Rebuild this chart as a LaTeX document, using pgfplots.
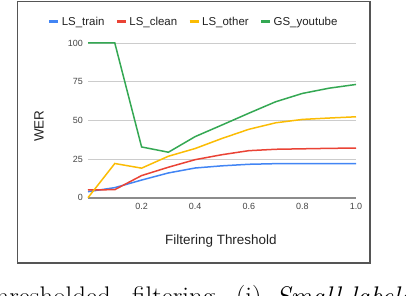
\documentclass[border=0pt]{standalone}
\usepackage{fontspec}
\newfontfamily\arial{Liberation Sans}
\usepackage{pgfplots}
\pgfplotsset{compat=1.18}
\definecolor{gblue}{HTML}{4285F4}
\definecolor{gred}{HTML}{EA4335}
\definecolor{gyellow}{HTML}{FBBC04}
\definecolor{ggreen}{HTML}{34A853}
\definecolor{framecol}{HTML}{555555}
\definecolor{axgray}{HTML}{8C8C8C}
\definecolor{gridgray}{HTML}{CCCCCC}
\definecolor{ticktext}{HTML}{444444}
\definecolor{labeltext}{HTML}{222222}
\begin{document}
\begin{tikzpicture}
\useasboundingbox (0,0) rectangle (406bp,296bp);
\draw[line width=1.3bp, color=framecol] (17.3bp,33bp) rectangle (370bp,294.7bp);
\begin{axis}[
  at={(88bp,98.3bp)}, anchor=south west,
  width=268bp, height=154.7bp, scale only axis,
  xmin=0, xmax=1, ymin=0, ymax=100,
  axis x line=bottom, axis y line=left,
  axis line style={-},
  x axis line style={draw=axgray, line width=2bp},
  y axis line style={draw=none},
  major tick length=0pt,
  xtick={0.2,0.4,0.6,0.8,1.0},
  ytick={0,25,50,75,100},
  ymajorgrids, grid style={draw=gridgray, line width=0.9bp},
  /pgf/number format/assume math mode=true,
  xticklabel style={font=\arial\fontsize{9}{10}\selectfont, color=ticktext, inner sep=0pt, yshift=-5.5bp,
    /pgf/number format/fixed, /pgf/number format/fixed zerofill, /pgf/number format/precision=1},
  yticklabel style={font=\arial\fontsize{9}{10}\selectfont, color=ticktext, inner sep=0pt, xshift=-5bp},
  xlabel={Filtering Threshold}, ylabel={WER},
  label style={font=\arial\fontsize{13.5}{15}\selectfont, color=labeltext},
  xlabel style={at={(axis description cs:0.496,-0.283)}, anchor=center},
  ylabel style={at={(axis description cs:-0.183,0.463)}, anchor=center},
  legend columns=4,
  legend style={at={(axis description cs:0.394,1.136)}, anchor=center, draw=none, fill=none,
    font=\arial\fontsize{11.5}{13}\selectfont, text=labeltext, inner sep=0pt,
    /tikz/every even column/.append style={column sep=9bp}},
  legend image code/.code={\draw[line width=3bp] (0bp,0bp) -- (9bp,0bp);},
  every axis plot/.append style={line width=1.5bp},
  clip=false,
]
\addplot[color=gblue] coordinates {(0,3.9)(0.1,6.5)(0.2,11.4)(0.3,16)(0.4,19.2)(0.5,20.6)(0.6,21.6)(0.7,22)(0.8,22.1)(0.9,22.1)(1.0,22.1)};
\addlegendentry{LS\_train}
\addplot[color=gred] coordinates {(0,5)(0.1,5.2)(0.2,14.3)(0.3,19.7)(0.4,24.6)(0.5,27.8)(0.6,30.4)(0.7,31.3)(0.8,31.6)(0.9,31.9)(1.0,32.1)};
\addlegendentry{LS\_clean}
\addplot[color=gyellow] coordinates {(0,0)(0.1,22.1)(0.2,19.1)(0.3,26.8)(0.4,31.8)(0.5,38.3)(0.6,44.2)(0.7,48.4)(0.8,50.6)(0.9,51.5)(1.0,52.3)};
\addlegendentry{LS\_other}
\addplot[color=ggreen] coordinates {(0,100)(0.1,100)(0.2,32.8)(0.3,29.4)(0.4,39.5)(0.5,47)(0.6,54.6)(0.7,62)(0.8,67.4)(0.9,70.8)(1.0,73.2)};
\addlegendentry{GS\_youtube}
\end{axis}
\node[anchor=base east, inner sep=0pt, font=\fontsize{27}{30}\selectfont] at (111bp,-9.5bp) {the thresholded};
\node[anchor=base west, inner sep=0pt, font=\fontsize{27}{30}\selectfont] at (132bp,-9.5bp) {filtering.\hspace{14bp}(i)\hspace{14bp}\textit{Small-labeled}};
\end{tikzpicture}
\end{document}
